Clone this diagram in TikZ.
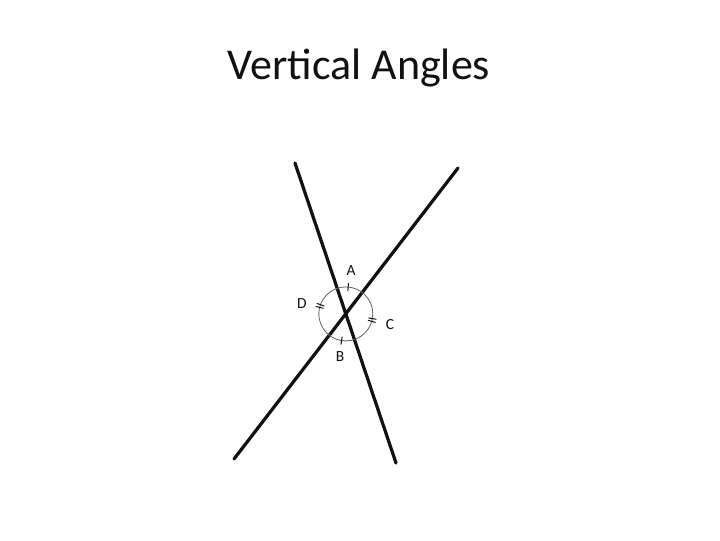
\documentclass[tikz,border=0pt]{standalone}
\usepackage{fontspec}
\setmainfont{Carlito}
\usepackage{tikz}
\usetikzlibrary{calc}
\definecolor{ink}{HTML}{111111}
\definecolor{ringgray}{HTML}{666666}

\begin{document}
\begin{tikzpicture}[
    x=0.025cm, y=-0.025cm,
    every node/.style={font=\fontsize{11}{13}\selectfont, color=ink},
    lineseg/.style={line width=2.3pt, color=ink, line cap=round},
    ring/.style={line width=0.6pt, color=ringgray},
    tick/.style={line width=0.7pt, color=ink}
]
\useasboundingbox (0,0) rectangle (720,540);

% Title
\node (title) at (359,68) {\fontsize{31.3}{36}\selectfont Vertical Angles};

% Line end points
\coordinate (p1) at (295,163);
\coordinate (p2) at (396,463);
\coordinate (q1) at (458,168);
\coordinate (q2) at (234,459);
\coordinate (O) at (345.8,313.9);

% Lines
\draw[lineseg] (p1) -- (p2);
\draw[lineseg] (q1) -- (q2);

% Angle circle
\draw[ring] (O) circle[radius=27];

% Tick marks
\draw[tick] ($(O)+(-85:23)$) -- ($(O)+(-85:31)$);
\draw[tick] ($(O)+(99:23)$) -- ($(O)+(99:31)$);
\foreach \a in {-160,-166} {
  \draw[tick] ($(O)+(\a:23)$) -- ($(O)+(\a:31)$);
}
\foreach \a in {10,16} {
  \draw[tick] ($(O)+(\a:23)$) -- ($(O)+(\a:31)$);
}

% Labels
\node (lblA) at (351,271) {A};
\node (lblB) at (340,357) {B};
\node (lblC) at (390,325) {C};
\node (lblD) at (302,304) {D};

\end{tikzpicture}
\end{document}
